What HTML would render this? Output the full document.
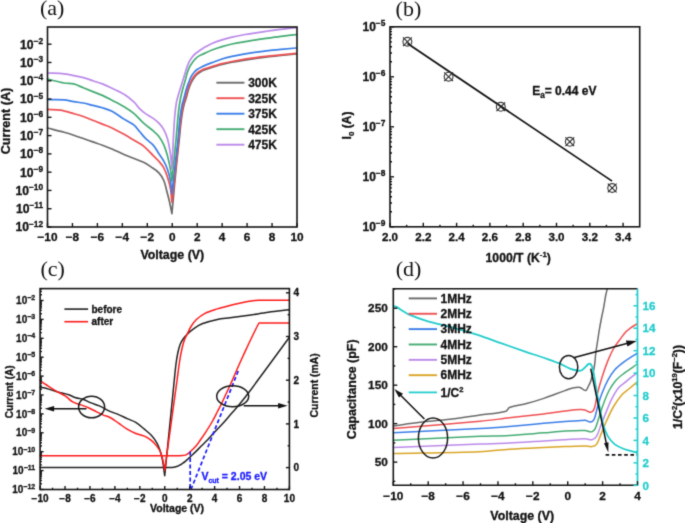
<!DOCTYPE html>
<html><head><meta charset="utf-8"><style>
html,body{margin:0;padding:0;background:#fff;}
body{width:685px;height:523px;overflow:hidden;}
svg{display:block;}
</style></head><body>
<svg width="685" height="523" viewBox="0 0 685 523">
<defs><filter id="bl" x="0" y="0" width="685" height="523" filterUnits="userSpaceOnUse" color-interpolation-filters="sRGB"><feConvolveMatrix order="3" kernelMatrix="0.01917 0.10012 0.01917 0.10012 0.52283 0.10012 0.01917 0.10012 0.01917" edgeMode="duplicate"/></filter></defs>
<rect width="685" height="523" fill="#fff"/>
<g filter="url(#bl)">
<rect width="685" height="523" fill="#fff"/>
<text x="40" y="15.3" font-size="22" text-anchor="start" fill="#111" font-weight="normal" font-family='"Liberation Serif", serif' >(a)</text>
<path d="M47.5,128 C53.03,129.43 58.59,130.79 64.1,132.3 C67.32,133.19 70.52,134.17 73.7,135.2 C76.92,136.24 80.11,137.38 83.3,138.5 C86.47,139.61 89.63,140.79 92.8,141.9 C95.99,143.02 99.23,144.03 102.4,145.2 C105.63,146.39 108.84,147.64 112,149 C116.21,150.81 120.29,152.89 124.5,154.7 C127.66,156.06 130.9,157.23 134.1,158.5 C137.27,159.76 140.55,160.77 143.6,162.3 C146.31,163.65 148.81,165.39 151.3,167.1 C153.91,168.89 156.74,170.48 158.9,172.8 C160.98,175.02 162.58,177.71 163.8,180.5 C165.21,183.74 165.79,187.29 166.7,190.7 C167.72,194.52 168.73,198.34 169.6,202.2 C170.46,206.01 171.13,209.87 171.9,213.7 C172.87,203.13 173.8,192.56 174.8,182 C175.5,174.66 176.23,167.33 177,160 C177.7,153.33 178.5,146.67 179.2,140 C179.76,134.67 180.19,129.32 180.8,124 C181.22,120.32 181.68,116.65 182.3,113 C182.81,109.98 183.44,106.97 184.2,104 C184.68,102.13 185.45,100.35 186,98.5 C186.89,95.51 187.52,92.46 188.5,89.5 C189.29,87.11 190.22,84.77 191.3,82.5 C192.05,80.92 192.98,79.42 194,78 C194.89,76.75 195.9,75.57 197,74.5 C197.91,73.62 198.91,72.84 200,72.2 C201.59,71.26 203.28,70.47 205,69.8 C208.28,68.53 211.61,67.35 215,66.4 C220.62,64.82 226.27,63.33 232,62.2 C239.95,60.63 247.97,59.4 256,58.3 C264.31,57.16 272.66,56.39 281,55.5 C286.06,54.96 291.13,54.5 296.2,54" fill="none" stroke="#6a6a6a" stroke-width="1.7" stroke-linejoin="round" stroke-linecap="round" />
<path d="M47.5,109.4 C51.77,109.63 56.08,109.42 60.3,110.1 C64.86,110.83 69.25,112.36 73.7,113.6 C76.92,114.5 80.15,115.39 83.3,116.5 C86.52,117.63 89.63,119.04 92.8,120.3 C96,121.57 99.21,122.82 102.4,124.1 C105.61,125.39 108.88,126.52 112,128 C116.26,130.02 120.38,132.31 124.5,134.6 C127.75,136.41 130.91,138.38 134.1,140.3 C137.28,142.21 140.7,143.78 143.6,146.1 C147.11,148.91 150.01,152.43 153.2,155.6 C155.11,157.49 157.14,159.27 158.9,161.3 C160.68,163.35 162.51,165.41 163.8,167.8 C165.44,170.83 166.55,174.12 167.6,177.4 C168.79,181.14 169.83,184.94 170.5,188.8 C171.27,193.22 171.43,197.73 171.9,202.2 C172.77,194.8 173.69,187.41 174.5,180 C175.23,173.34 175.8,166.66 176.5,160 C177.2,153.33 178.01,146.67 178.7,140 C179.25,134.67 179.61,129.32 180.2,124 C180.61,120.32 181.1,116.65 181.7,113 C182.2,109.98 182.77,106.97 183.5,104 C184,101.96 184.82,100.02 185.4,98 C186.26,95.02 186.82,91.95 187.8,89 C188.59,86.6 189.63,84.29 190.7,82 C191.43,80.45 192.24,78.92 193.2,77.5 C194.08,76.21 195.1,75 196.2,73.9 C197.14,72.96 198.21,72.15 199.3,71.4 C200.15,70.82 201.06,70.33 202,69.9 C202.97,69.46 203.99,69.13 205,68.8 C208.32,67.7 211.65,66.62 215,65.6 C217.32,64.89 219.64,64.17 222,63.6 C225.31,62.8 228.65,62.14 232,61.5 C236.32,60.67 240.66,59.91 245,59.2 C248.66,58.61 252.33,58.09 256,57.6 C259.33,57.16 262.66,56.77 266,56.4 C271,55.84 276,55.31 281,54.8 C286.06,54.28 291.13,53.8 296.2,53.3" fill="none" stroke="#f04f52" stroke-width="1.7" stroke-linejoin="round" stroke-linecap="round" />
<path d="M47.5,99.6 C53.03,99.67 58.58,99.36 64.1,99.8 C67.35,100.06 70.48,101.16 73.7,101.7 C76.89,102.23 80.13,102.39 83.3,103 C86.51,103.62 89.63,104.6 92.8,105.4 C96,106.2 99.25,106.83 102.4,107.8 C105.66,108.8 108.98,109.72 112,111.3 C116.4,113.61 120.29,116.77 124.5,119.4 C127.66,121.37 131.21,122.76 134.1,125.1 C136.38,126.95 137.89,129.57 139.8,131.8 C141.69,134.01 143.44,136.35 145.5,138.4 C147.91,140.8 150.96,142.54 153.2,145.1 C155.47,147.69 157,150.83 158.9,153.7 C160.53,156.17 162.39,158.5 163.8,161.1 C165.3,163.85 166.61,166.73 167.6,169.7 C168.85,173.45 169.8,177.31 170.5,181.2 C171.24,185.29 171.43,189.47 171.9,193.6 C172.6,187.4 173.31,181.2 174,175 C174.67,169 175.31,163 176,157 C176.65,151.33 177.42,145.68 178,140 C178.56,134.51 178.85,128.99 179.4,123.5 C179.75,119.92 180.17,116.35 180.7,112.8 C181.14,109.85 181.65,106.91 182.3,104 C182.75,101.97 183.46,100.01 184,98 C184.86,94.84 185.54,91.63 186.5,88.5 C187.18,86.29 188.05,84.15 188.9,82 C189.65,80.08 190.31,78.11 191.3,76.3 C192.15,74.75 193.23,73.32 194.4,72 C195.31,70.97 196.37,70.07 197.5,69.3 C198.92,68.33 200.48,67.59 202,66.8 C202.98,66.29 203.98,65.83 205,65.4 C207.32,64.43 209.65,63.49 212,62.6 C215.32,61.35 218.62,60.05 222,59 C225.29,57.98 228.64,57.16 232,56.4 C236.31,55.43 240.65,54.56 245,53.8 C248.65,53.16 252.33,52.72 256,52.2 C259.33,51.72 262.66,51.19 266,50.8 C270.99,50.22 276,49.76 281,49.3 C286.06,48.83 291.13,48.43 296.2,48" fill="none" stroke="#3b7ee8" stroke-width="1.7" stroke-linejoin="round" stroke-linecap="round" />
<path d="M47.5,79.1 C53.03,80.4 58.51,81.98 64.1,83 C67.26,83.58 70.58,83.12 73.7,83.9 C77.05,84.74 80.1,86.51 83.3,87.8 C86.46,89.08 89.63,90.34 92.8,91.6 C96,92.87 99.26,93.99 102.4,95.4 C105.67,96.86 108.83,98.55 112,100.2 C116.19,102.38 120.46,104.45 124.5,106.9 C127.84,108.92 131.13,111.07 134.1,113.6 C137.52,116.52 140.25,120.19 143.6,123.2 C146.63,125.93 150.12,128.12 153.2,130.8 C155.23,132.56 157.29,134.35 158.9,136.5 C160.85,139.09 162.5,141.93 163.8,144.9 C165.41,148.57 166.56,152.43 167.6,156.3 C168.79,160.71 169.72,165.2 170.5,169.7 C171.16,173.51 171.43,177.37 171.9,181.2 C172.43,175.8 172.96,170.4 173.5,165 C174,160 174.5,155 175,150 C175.33,146.67 175.7,143.34 176,140 C176.5,134.5 176.9,129 177.4,123.5 C177.8,119.03 178.14,114.55 178.7,110.1 C179.21,106.05 179.82,102.01 180.6,98 C181.25,94.64 182.12,91.31 183,88 C183.66,85.51 184.51,83.08 185.2,80.6 C185.88,78.18 186.34,75.7 187.1,73.3 C187.77,71.19 188.52,69.09 189.5,67.1 C190.36,65.37 191.47,63.77 192.6,62.2 C193.51,60.93 194.5,59.7 195.6,58.6 C196.54,57.66 197.58,56.82 198.7,56.1 C199.73,55.44 200.9,55.03 202,54.5 C203,54.03 203.99,53.55 205,53.1 C207.33,52.05 209.62,50.91 212,50 C215.29,48.74 218.63,47.61 222,46.6 C225.3,45.61 228.63,44.73 232,44 C236.31,43.06 240.66,42.36 245,41.6 C248.66,40.96 252.33,40.38 256,39.8 C259.33,39.28 262.66,38.77 266,38.3 C271,37.6 275.99,36.91 281,36.3 C286.06,35.68 291.13,35.17 296.2,34.6" fill="none" stroke="#45ac74" stroke-width="1.7" stroke-linejoin="round" stroke-linecap="round" />
<path d="M47.5,73 C53.03,73.27 58.61,73.09 64.1,73.8 C70.57,74.63 76.96,76.07 83.3,77.6 C86.54,78.38 89.64,79.66 92.8,80.7 C96,81.76 99.26,82.66 102.4,83.9 C105.67,85.2 108.83,86.78 112,88.3 C116.19,90.31 120.56,92.02 124.5,94.5 C127.97,96.68 131.11,99.39 134.1,102.2 C136.24,104.21 137.73,106.83 139.8,108.9 C141.54,110.64 143.49,112.18 145.5,113.6 C147.97,115.35 150.74,116.64 153.2,118.4 C155.22,119.85 157.19,121.4 158.9,123.2 C160.75,125.15 162.51,127.24 163.8,129.6 C165.44,132.59 166.71,135.81 167.6,139.1 C168.95,144.11 169.76,149.26 170.5,154.4 C171.19,159.17 171.43,164 171.9,168.8 C172.13,164.2 172.38,159.6 172.6,155 C172.84,150 173.03,145 173.3,140 C173.73,132.26 174.05,124.52 174.7,116.8 C175.12,111.85 175.67,106.9 176.5,102 C176.93,99.45 177.79,96.99 178.5,94.5 C179.12,92.32 179.83,90.17 180.5,88 C181.16,85.87 181.84,83.74 182.5,81.6 C183.11,79.64 183.7,77.67 184.3,75.7 C185,73.4 185.61,71.07 186.4,68.8 C187.15,66.64 187.9,64.46 188.9,62.4 C189.77,60.61 190.83,58.91 192,57.3 C192.87,56.1 193.9,55 195,54 C196.14,52.96 197.44,52.1 198.7,51.2 C199.78,50.43 200.88,49.7 202,49 C203.32,48.17 204.64,47.35 206,46.6 C207.97,45.52 209.92,44.37 212,43.5 C215.27,42.13 218.63,40.98 222,39.9 C225.3,38.85 228.63,37.89 232,37.1 C236.3,36.09 240.65,35.28 245,34.5 C248.65,33.85 252.33,33.36 256,32.8 C259.33,32.29 262.66,31.77 266,31.3 C271,30.6 275.99,29.9 281,29.3 C286.06,28.7 291.13,28.23 296.2,27.7" fill="none" stroke="#bb8aea" stroke-width="1.7" stroke-linejoin="round" stroke-linecap="round" />
<rect x="47.5" y="27" width="249.5" height="200" fill="none" stroke="#151515" stroke-width="1.6"/>
<line x1="47.5" y1="227" x2="47.5" y2="223" stroke="#151515" stroke-width="1.4" />
<text x="47.5" y="240.6" font-size="11.8" text-anchor="middle" fill="#111" font-weight="bold" font-family='"Liberation Sans", sans-serif' stroke="#111" stroke-width="0.3" >&#8722;10</text>
<line x1="72.45" y1="227" x2="72.45" y2="223" stroke="#151515" stroke-width="1.4" />
<text x="72.45" y="240.6" font-size="11.8" text-anchor="middle" fill="#111" font-weight="bold" font-family='"Liberation Sans", sans-serif' stroke="#111" stroke-width="0.3" >&#8722;8</text>
<line x1="97.4" y1="227" x2="97.4" y2="223" stroke="#151515" stroke-width="1.4" />
<text x="97.4" y="240.6" font-size="11.8" text-anchor="middle" fill="#111" font-weight="bold" font-family='"Liberation Sans", sans-serif' stroke="#111" stroke-width="0.3" >&#8722;6</text>
<line x1="122.35" y1="227" x2="122.35" y2="223" stroke="#151515" stroke-width="1.4" />
<text x="122.35" y="240.6" font-size="11.8" text-anchor="middle" fill="#111" font-weight="bold" font-family='"Liberation Sans", sans-serif' stroke="#111" stroke-width="0.3" >&#8722;4</text>
<line x1="147.3" y1="227" x2="147.3" y2="223" stroke="#151515" stroke-width="1.4" />
<text x="147.3" y="240.6" font-size="11.8" text-anchor="middle" fill="#111" font-weight="bold" font-family='"Liberation Sans", sans-serif' stroke="#111" stroke-width="0.3" >&#8722;2</text>
<line x1="172.25" y1="227" x2="172.25" y2="223" stroke="#151515" stroke-width="1.4" />
<text x="172.25" y="240.6" font-size="11.8" text-anchor="middle" fill="#111" font-weight="bold" font-family='"Liberation Sans", sans-serif' stroke="#111" stroke-width="0.3" >0</text>
<line x1="197.2" y1="227" x2="197.2" y2="223" stroke="#151515" stroke-width="1.4" />
<text x="197.2" y="240.6" font-size="11.8" text-anchor="middle" fill="#111" font-weight="bold" font-family='"Liberation Sans", sans-serif' stroke="#111" stroke-width="0.3" >2</text>
<line x1="222.15" y1="227" x2="222.15" y2="223" stroke="#151515" stroke-width="1.4" />
<text x="222.15" y="240.6" font-size="11.8" text-anchor="middle" fill="#111" font-weight="bold" font-family='"Liberation Sans", sans-serif' stroke="#111" stroke-width="0.3" >4</text>
<line x1="247.1" y1="227" x2="247.1" y2="223" stroke="#151515" stroke-width="1.4" />
<text x="247.1" y="240.6" font-size="11.8" text-anchor="middle" fill="#111" font-weight="bold" font-family='"Liberation Sans", sans-serif' stroke="#111" stroke-width="0.3" >6</text>
<line x1="272.05" y1="227" x2="272.05" y2="223" stroke="#151515" stroke-width="1.4" />
<text x="272.05" y="240.6" font-size="11.8" text-anchor="middle" fill="#111" font-weight="bold" font-family='"Liberation Sans", sans-serif' stroke="#111" stroke-width="0.3" >8</text>
<line x1="297" y1="227" x2="297" y2="223" stroke="#151515" stroke-width="1.4" />
<text x="297" y="240.6" font-size="11.8" text-anchor="middle" fill="#111" font-weight="bold" font-family='"Liberation Sans", sans-serif' stroke="#111" stroke-width="0.3" >10</text>
<line x1="47.5" y1="227" x2="51.5" y2="227" stroke="#151515" stroke-width="1.4" />
<text x="43.2" y="231.4" font-size="12.2" text-anchor="end" fill="#111" font-weight="bold" font-family='"Liberation Sans", sans-serif' stroke="#111" stroke-width="0.3" >10<tspan font-size="8.4" dy="-4.9">&#8722;12</tspan></text>
<line x1="47.5" y1="208.72" x2="51.5" y2="208.72" stroke="#151515" stroke-width="1.4" />
<text x="43.2" y="213.12" font-size="12.2" text-anchor="end" fill="#111" font-weight="bold" font-family='"Liberation Sans", sans-serif' stroke="#111" stroke-width="0.3" >10<tspan font-size="8.4" dy="-4.9">&#8722;11</tspan></text>
<line x1="47.5" y1="190.44" x2="51.5" y2="190.44" stroke="#151515" stroke-width="1.4" />
<text x="43.2" y="194.84" font-size="12.2" text-anchor="end" fill="#111" font-weight="bold" font-family='"Liberation Sans", sans-serif' stroke="#111" stroke-width="0.3" >10<tspan font-size="8.4" dy="-4.9">&#8722;10</tspan></text>
<line x1="47.5" y1="172.16" x2="51.5" y2="172.16" stroke="#151515" stroke-width="1.4" />
<text x="43.2" y="176.56" font-size="12.2" text-anchor="end" fill="#111" font-weight="bold" font-family='"Liberation Sans", sans-serif' stroke="#111" stroke-width="0.3" >10<tspan font-size="8.4" dy="-4.9">&#8722;9</tspan></text>
<line x1="47.5" y1="153.88" x2="51.5" y2="153.88" stroke="#151515" stroke-width="1.4" />
<text x="43.2" y="158.28" font-size="12.2" text-anchor="end" fill="#111" font-weight="bold" font-family='"Liberation Sans", sans-serif' stroke="#111" stroke-width="0.3" >10<tspan font-size="8.4" dy="-4.9">&#8722;8</tspan></text>
<line x1="47.5" y1="135.6" x2="51.5" y2="135.6" stroke="#151515" stroke-width="1.4" />
<text x="43.2" y="140" font-size="12.2" text-anchor="end" fill="#111" font-weight="bold" font-family='"Liberation Sans", sans-serif' stroke="#111" stroke-width="0.3" >10<tspan font-size="8.4" dy="-4.9">&#8722;7</tspan></text>
<line x1="47.5" y1="117.32" x2="51.5" y2="117.32" stroke="#151515" stroke-width="1.4" />
<text x="43.2" y="121.72" font-size="12.2" text-anchor="end" fill="#111" font-weight="bold" font-family='"Liberation Sans", sans-serif' stroke="#111" stroke-width="0.3" >10<tspan font-size="8.4" dy="-4.9">&#8722;6</tspan></text>
<line x1="47.5" y1="99.04" x2="51.5" y2="99.04" stroke="#151515" stroke-width="1.4" />
<text x="43.2" y="103.44" font-size="12.2" text-anchor="end" fill="#111" font-weight="bold" font-family='"Liberation Sans", sans-serif' stroke="#111" stroke-width="0.3" >10<tspan font-size="8.4" dy="-4.9">&#8722;5</tspan></text>
<line x1="47.5" y1="80.76" x2="51.5" y2="80.76" stroke="#151515" stroke-width="1.4" />
<text x="43.2" y="85.16" font-size="12.2" text-anchor="end" fill="#111" font-weight="bold" font-family='"Liberation Sans", sans-serif' stroke="#111" stroke-width="0.3" >10<tspan font-size="8.4" dy="-4.9">&#8722;4</tspan></text>
<line x1="47.5" y1="62.48" x2="51.5" y2="62.48" stroke="#151515" stroke-width="1.4" />
<text x="43.2" y="66.88" font-size="12.2" text-anchor="end" fill="#111" font-weight="bold" font-family='"Liberation Sans", sans-serif' stroke="#111" stroke-width="0.3" >10<tspan font-size="8.4" dy="-4.9">&#8722;3</tspan></text>
<line x1="47.5" y1="44.2" x2="51.5" y2="44.2" stroke="#151515" stroke-width="1.4" />
<text x="43.2" y="48.6" font-size="12.2" text-anchor="end" fill="#111" font-weight="bold" font-family='"Liberation Sans", sans-serif' stroke="#111" stroke-width="0.3" >10<tspan font-size="8.4" dy="-4.9">&#8722;2</tspan></text>
<text x="172.3" y="258.8" font-size="12.4" text-anchor="middle" fill="#111" font-weight="bold" font-family='"Liberation Sans", sans-serif' stroke="#111" stroke-width="0.3" >Voltage (V)</text>
<text x="0" y="0" font-size="12.6" text-anchor="middle" fill="#111" font-weight="bold" font-family='"Liberation Sans", sans-serif' stroke="#111" stroke-width="0.3" transform="translate(9.8,121) rotate(-90)">Current (A)</text>
<line x1="216.4" y1="82.7" x2="244.4" y2="82.7" stroke="#6a6a6a" stroke-width="1.9" />
<text x="248.2" y="87" font-size="12" text-anchor="start" fill="#111" font-weight="bold" font-family='"Liberation Sans", sans-serif' stroke="#111" stroke-width="0.3" >300K</text>
<line x1="216.4" y1="98.2" x2="244.4" y2="98.2" stroke="#f04f52" stroke-width="1.9" />
<text x="248.2" y="102.5" font-size="12" text-anchor="start" fill="#111" font-weight="bold" font-family='"Liberation Sans", sans-serif' stroke="#111" stroke-width="0.3" >325K</text>
<line x1="216.4" y1="113.7" x2="244.4" y2="113.7" stroke="#3b7ee8" stroke-width="1.9" />
<text x="248.2" y="118" font-size="12" text-anchor="start" fill="#111" font-weight="bold" font-family='"Liberation Sans", sans-serif' stroke="#111" stroke-width="0.3" >375K</text>
<line x1="216.4" y1="129.2" x2="244.4" y2="129.2" stroke="#45ac74" stroke-width="1.9" />
<text x="248.2" y="133.5" font-size="12" text-anchor="start" fill="#111" font-weight="bold" font-family='"Liberation Sans", sans-serif' stroke="#111" stroke-width="0.3" >425K</text>
<line x1="216.4" y1="144.7" x2="244.4" y2="144.7" stroke="#bb8aea" stroke-width="1.9" />
<text x="248.2" y="149" font-size="12" text-anchor="start" fill="#111" font-weight="bold" font-family='"Liberation Sans", sans-serif' stroke="#111" stroke-width="0.3" >475K</text>
<text x="395.6" y="15.7" font-size="22" text-anchor="start" fill="#111" font-weight="normal" font-family='"Liberation Serif", serif' >(b)</text>
<rect x="390" y="26.8" width="249.7" height="200" fill="none" stroke="#151515" stroke-width="1.6"/>
<line x1="390" y1="226.8" x2="390" y2="222.8" stroke="#151515" stroke-width="1.4" />
<text x="390" y="240.6" font-size="11.6" text-anchor="middle" fill="#111" font-weight="bold" font-family='"Liberation Sans", sans-serif' stroke="#111" stroke-width="0.3" >2.0</text>
<line x1="406.65" y1="226.8" x2="406.65" y2="224.8" stroke="#151515" stroke-width="1.4" />
<line x1="423.3" y1="226.8" x2="423.3" y2="222.8" stroke="#151515" stroke-width="1.4" />
<text x="423.3" y="240.6" font-size="11.6" text-anchor="middle" fill="#111" font-weight="bold" font-family='"Liberation Sans", sans-serif' stroke="#111" stroke-width="0.3" >2.2</text>
<line x1="439.95" y1="226.8" x2="439.95" y2="224.8" stroke="#151515" stroke-width="1.4" />
<line x1="456.6" y1="226.8" x2="456.6" y2="222.8" stroke="#151515" stroke-width="1.4" />
<text x="456.6" y="240.6" font-size="11.6" text-anchor="middle" fill="#111" font-weight="bold" font-family='"Liberation Sans", sans-serif' stroke="#111" stroke-width="0.3" >2.4</text>
<line x1="473.25" y1="226.8" x2="473.25" y2="224.8" stroke="#151515" stroke-width="1.4" />
<line x1="489.9" y1="226.8" x2="489.9" y2="222.8" stroke="#151515" stroke-width="1.4" />
<text x="489.9" y="240.6" font-size="11.6" text-anchor="middle" fill="#111" font-weight="bold" font-family='"Liberation Sans", sans-serif' stroke="#111" stroke-width="0.3" >2.6</text>
<line x1="506.55" y1="226.8" x2="506.55" y2="224.8" stroke="#151515" stroke-width="1.4" />
<line x1="523.2" y1="226.8" x2="523.2" y2="222.8" stroke="#151515" stroke-width="1.4" />
<text x="523.2" y="240.6" font-size="11.6" text-anchor="middle" fill="#111" font-weight="bold" font-family='"Liberation Sans", sans-serif' stroke="#111" stroke-width="0.3" >2.8</text>
<line x1="539.85" y1="226.8" x2="539.85" y2="224.8" stroke="#151515" stroke-width="1.4" />
<line x1="556.5" y1="226.8" x2="556.5" y2="222.8" stroke="#151515" stroke-width="1.4" />
<text x="556.5" y="240.6" font-size="11.6" text-anchor="middle" fill="#111" font-weight="bold" font-family='"Liberation Sans", sans-serif' stroke="#111" stroke-width="0.3" >3.0</text>
<line x1="573.15" y1="226.8" x2="573.15" y2="224.8" stroke="#151515" stroke-width="1.4" />
<line x1="589.8" y1="226.8" x2="589.8" y2="222.8" stroke="#151515" stroke-width="1.4" />
<text x="589.8" y="240.6" font-size="11.6" text-anchor="middle" fill="#111" font-weight="bold" font-family='"Liberation Sans", sans-serif' stroke="#111" stroke-width="0.3" >3.2</text>
<line x1="606.45" y1="226.8" x2="606.45" y2="224.8" stroke="#151515" stroke-width="1.4" />
<line x1="623.1" y1="226.8" x2="623.1" y2="222.8" stroke="#151515" stroke-width="1.4" />
<text x="623.1" y="240.6" font-size="11.6" text-anchor="middle" fill="#111" font-weight="bold" font-family='"Liberation Sans", sans-serif' stroke="#111" stroke-width="0.3" >3.4</text>
<line x1="390" y1="226.8" x2="394" y2="226.8" stroke="#151515" stroke-width="1.4" />
<text x="385.4" y="231.3" font-size="12.0" text-anchor="end" fill="#111" font-weight="bold" font-family='"Liberation Sans", sans-serif' stroke="#111" stroke-width="0.3" >10<tspan font-size="8.4" dy="-5">&#8722;9</tspan></text>
<line x1="390" y1="211.75" x2="392" y2="211.75" stroke="#151515" stroke-width="1.4" />
<line x1="390" y1="202.94" x2="392" y2="202.94" stroke="#151515" stroke-width="1.4" />
<line x1="390" y1="196.7" x2="392" y2="196.7" stroke="#151515" stroke-width="1.4" />
<line x1="390" y1="191.85" x2="392" y2="191.85" stroke="#151515" stroke-width="1.4" />
<line x1="390" y1="187.89" x2="392" y2="187.89" stroke="#151515" stroke-width="1.4" />
<line x1="390" y1="184.55" x2="392" y2="184.55" stroke="#151515" stroke-width="1.4" />
<line x1="390" y1="181.65" x2="392" y2="181.65" stroke="#151515" stroke-width="1.4" />
<line x1="390" y1="179.09" x2="392" y2="179.09" stroke="#151515" stroke-width="1.4" />
<line x1="390" y1="176.8" x2="394" y2="176.8" stroke="#151515" stroke-width="1.4" />
<text x="385.4" y="181.3" font-size="12.0" text-anchor="end" fill="#111" font-weight="bold" font-family='"Liberation Sans", sans-serif' stroke="#111" stroke-width="0.3" >10<tspan font-size="8.4" dy="-5">&#8722;8</tspan></text>
<line x1="390" y1="161.75" x2="392" y2="161.75" stroke="#151515" stroke-width="1.4" />
<line x1="390" y1="152.94" x2="392" y2="152.94" stroke="#151515" stroke-width="1.4" />
<line x1="390" y1="146.7" x2="392" y2="146.7" stroke="#151515" stroke-width="1.4" />
<line x1="390" y1="141.85" x2="392" y2="141.85" stroke="#151515" stroke-width="1.4" />
<line x1="390" y1="137.89" x2="392" y2="137.89" stroke="#151515" stroke-width="1.4" />
<line x1="390" y1="134.55" x2="392" y2="134.55" stroke="#151515" stroke-width="1.4" />
<line x1="390" y1="131.65" x2="392" y2="131.65" stroke="#151515" stroke-width="1.4" />
<line x1="390" y1="129.09" x2="392" y2="129.09" stroke="#151515" stroke-width="1.4" />
<line x1="390" y1="126.8" x2="394" y2="126.8" stroke="#151515" stroke-width="1.4" />
<text x="385.4" y="131.3" font-size="12.0" text-anchor="end" fill="#111" font-weight="bold" font-family='"Liberation Sans", sans-serif' stroke="#111" stroke-width="0.3" >10<tspan font-size="8.4" dy="-5">&#8722;7</tspan></text>
<line x1="390" y1="111.75" x2="392" y2="111.75" stroke="#151515" stroke-width="1.4" />
<line x1="390" y1="102.94" x2="392" y2="102.94" stroke="#151515" stroke-width="1.4" />
<line x1="390" y1="96.7" x2="392" y2="96.7" stroke="#151515" stroke-width="1.4" />
<line x1="390" y1="91.85" x2="392" y2="91.85" stroke="#151515" stroke-width="1.4" />
<line x1="390" y1="87.89" x2="392" y2="87.89" stroke="#151515" stroke-width="1.4" />
<line x1="390" y1="84.55" x2="392" y2="84.55" stroke="#151515" stroke-width="1.4" />
<line x1="390" y1="81.65" x2="392" y2="81.65" stroke="#151515" stroke-width="1.4" />
<line x1="390" y1="79.09" x2="392" y2="79.09" stroke="#151515" stroke-width="1.4" />
<line x1="390" y1="76.8" x2="394" y2="76.8" stroke="#151515" stroke-width="1.4" />
<text x="385.4" y="81.3" font-size="12.0" text-anchor="end" fill="#111" font-weight="bold" font-family='"Liberation Sans", sans-serif' stroke="#111" stroke-width="0.3" >10<tspan font-size="8.4" dy="-5">&#8722;6</tspan></text>
<line x1="390" y1="61.75" x2="392" y2="61.75" stroke="#151515" stroke-width="1.4" />
<line x1="390" y1="52.94" x2="392" y2="52.94" stroke="#151515" stroke-width="1.4" />
<line x1="390" y1="46.7" x2="392" y2="46.7" stroke="#151515" stroke-width="1.4" />
<line x1="390" y1="41.85" x2="392" y2="41.85" stroke="#151515" stroke-width="1.4" />
<line x1="390" y1="37.89" x2="392" y2="37.89" stroke="#151515" stroke-width="1.4" />
<line x1="390" y1="34.55" x2="392" y2="34.55" stroke="#151515" stroke-width="1.4" />
<line x1="390" y1="31.65" x2="392" y2="31.65" stroke="#151515" stroke-width="1.4" />
<line x1="390" y1="29.09" x2="392" y2="29.09" stroke="#151515" stroke-width="1.4" />
<line x1="390" y1="26.8" x2="394" y2="26.8" stroke="#151515" stroke-width="1.4" />
<text x="385.4" y="31.3" font-size="12.0" text-anchor="end" fill="#111" font-weight="bold" font-family='"Liberation Sans", sans-serif' stroke="#111" stroke-width="0.3" >10<tspan font-size="8.4" dy="-5">&#8722;5</tspan></text>
<text x="0" y="0" font-size="12" text-anchor="middle" fill="#111" font-weight="bold" font-family='"Liberation Sans", sans-serif' stroke="#111" stroke-width="0.3" transform="translate(351.2,125.5) rotate(-90)">I<tspan font-size="8" dy="3">0</tspan><tspan dy="-3"> (A)</tspan></text>
<text x="518.2" y="262.3" font-size="12.2" text-anchor="middle" fill="#111" font-weight="bold" font-family='"Liberation Sans", sans-serif' stroke="#111" stroke-width="0.3" >1000/T (K<tspan font-size="7.8" dy="-5">-1</tspan><tspan dy="5">)</tspan></text>
<line x1="407.5" y1="43.5" x2="612.1" y2="181.1" stroke="#111" stroke-width="1.7" />
<circle cx="407.4" cy="41.7" r="4.4" fill="none" stroke="#3a3a3a" stroke-width="1.15"/>
<line x1="403" y1="37.3" x2="411.8" y2="46.1" stroke="#222" stroke-width="1.05" />
<line x1="403" y1="46.1" x2="411.8" y2="37.3" stroke="#222" stroke-width="1.05" />
<circle cx="448.6" cy="76.7" r="4.4" fill="none" stroke="#3a3a3a" stroke-width="1.15"/>
<line x1="444.2" y1="72.3" x2="453" y2="81.1" stroke="#222" stroke-width="1.05" />
<line x1="444.2" y1="81.1" x2="453" y2="72.3" stroke="#222" stroke-width="1.05" />
<circle cx="500.8" cy="106.8" r="4.4" fill="none" stroke="#3a3a3a" stroke-width="1.15"/>
<line x1="496.4" y1="102.4" x2="505.2" y2="111.2" stroke="#222" stroke-width="1.05" />
<line x1="496.4" y1="111.2" x2="505.2" y2="102.4" stroke="#222" stroke-width="1.05" />
<circle cx="569.8" cy="141.8" r="4.4" fill="none" stroke="#3a3a3a" stroke-width="1.15"/>
<line x1="565.4" y1="137.4" x2="574.2" y2="146.2" stroke="#222" stroke-width="1.05" />
<line x1="565.4" y1="146.2" x2="574.2" y2="137.4" stroke="#222" stroke-width="1.05" />
<circle cx="612.2" cy="188" r="4.4" fill="none" stroke="#3a3a3a" stroke-width="1.15"/>
<line x1="607.8" y1="183.6" x2="616.6" y2="192.4" stroke="#222" stroke-width="1.05" />
<line x1="607.8" y1="192.4" x2="616.6" y2="183.6" stroke="#222" stroke-width="1.05" />
<text x="532.2" y="95.4" font-size="12" text-anchor="start" fill="#111" font-weight="bold" font-family='"Liberation Sans", sans-serif' stroke="#111" stroke-width="0.3" >E<tspan font-size="8.2" dy="2.8">a</tspan><tspan dy="-2.8">= 0.44 eV</tspan></text>
<text x="40.4" y="276.4" font-size="22" text-anchor="start" fill="#111" font-weight="normal" font-family='"Liberation Serif", serif' >(c)</text>
<path d="M40.1,387.2 C41.77,387.5 43.45,387.71 45.1,388.1 C46.82,388.51 48.5,389.09 50.2,389.6 C53.6,390.62 56.98,391.75 60.4,392.7 C63.11,393.45 65.93,393.82 68.6,394.7 C71.08,395.52 73.31,397 75.8,397.8 C78.1,398.54 80.61,398.54 82.9,399.3 C85.73,400.24 88.33,401.79 91.1,402.9 C93.8,403.99 96.65,404.71 99.3,405.9 C102.96,407.54 106.34,409.75 110,411.4 C112.79,412.66 115.78,413.42 118.6,414.6 C121.52,415.82 124.32,417.29 127.2,418.6 C130.05,419.89 133.13,420.76 135.8,422.4 C138.91,424.32 141.59,426.86 144.4,429.2 C146.76,431.16 149.21,433.05 151.3,435.3 C153.23,437.37 154.96,439.66 156.4,442.1 C157.85,444.56 158.99,447.2 159.9,449.9 C161.03,453.26 161.85,456.72 162.5,460.2 C163.45,465.33 163.97,470.53 164.7,475.7 C166.3,459.8 167.9,443.9 169.5,428 C171.1,412 172.68,396 174.3,380 C174.84,374.66 175.31,369.32 176,364 C176.48,360.32 177.02,356.63 177.8,353 C178.45,349.96 179.16,346.9 180.3,344 C181.08,342.03 182.28,340.23 183.5,338.5 C184.59,336.95 185.84,335.52 187.2,334.2 C189.19,332.27 191.23,330.38 193.5,328.8 C196.22,326.9 199.01,325 202.1,323.8 C207.04,321.88 212.22,320.61 217.4,319.5 C221.54,318.61 225.8,318.37 230,317.8 C236.37,316.94 242.74,316.11 249.1,315.2 C255.51,314.28 261.89,313.17 268.3,312.3 C275.19,311.37 282.1,310.63 289,309.8" fill="none" stroke="#222" stroke-width="1.5" stroke-linejoin="round" stroke-linecap="round" />
<path d="M40.1,467.5 C83.4,467.5 126.7,467.6 170,467.5 C171.34,467.5 172.68,467.41 174,467.2 C175.19,467.01 176.37,466.71 177.5,466.3 C178.38,465.98 179.19,465.47 180,465 C180.86,464.5 181.68,463.96 182.5,463.4 C183.45,462.76 184.4,462.12 185.3,461.4 C186.24,460.65 187.12,459.82 188,459 C188.85,458.22 189.66,457.4 190.5,456.6 C192.26,454.93 194.07,453.3 195.8,451.6 C197.57,449.87 199.25,448.05 201,446.3 C203.12,444.18 205.32,442.15 207.4,440 C208.52,438.85 209.5,437.57 210.6,436.4 C214.24,432.51 218.01,428.74 221.6,424.8 C224.88,421.2 228,417.47 231.2,413.8 C233.97,410.63 236.83,407.55 239.5,404.3 C242.93,400.11 246.24,395.82 249.5,391.5 C254.74,384.55 259.85,377.51 265,370.5 C273.08,359.51 281.13,348.5 289.2,337.5" fill="none" stroke="#222" stroke-width="1.5" stroke-linejoin="round" stroke-linecap="round" />
<path d="M40.1,380.6 C42.27,382.07 44.41,383.56 46.6,385 C49.48,386.9 52.33,388.84 55.3,390.6 C58.64,392.58 62.25,394.09 65.5,396.2 C68.07,397.87 70.03,400.39 72.7,401.9 C75.23,403.33 78.17,403.88 80.9,404.9 C83.61,405.91 86.35,406.84 89,408 C91.46,409.08 93.79,410.41 96.2,411.6 C98.59,412.78 100.95,414.05 103.4,415.1 C105.55,416.02 107.93,416.4 110,417.5 C113.04,419.12 115.76,421.27 118.6,423.2 C121.49,425.17 124.2,427.4 127.2,429.2 C129.95,430.85 132.83,432.31 135.8,433.5 C138.58,434.62 141.66,434.88 144.4,436.1 C146.88,437.2 149.18,438.72 151.3,440.4 C153.2,441.91 154.91,443.68 156.4,445.6 C158.06,447.74 159.64,450 160.7,452.5 C161.97,455.49 162.59,458.73 163.3,461.9 C163.93,464.74 164.23,467.63 164.7,470.5 C166.77,455.33 168.82,440.17 170.9,425 C172.96,410 175.05,395 177.1,380 C177.92,374 178.57,367.98 179.5,362 C180.2,357.48 180.99,352.96 182,348.5 C182.69,345.45 183.53,342.43 184.6,339.5 C185.27,337.65 186.33,335.97 187.2,334.2 C188.46,331.63 189.48,328.93 191,326.5 C192.56,324 194.26,321.52 196.4,319.5 C198.97,317.08 201.85,314.89 205,313.3 C208.92,311.32 213.22,310.23 217.4,308.9 C221.19,307.69 225.05,306.69 228.9,305.7 C232.45,304.79 236.02,303.98 239.6,303.2 C242.76,302.51 245.91,301.83 249.1,301.3 C251.95,300.83 254.83,300.57 257.7,300.2 L289,300.3" fill="none" stroke="#ff1a1a" stroke-width="1.5" stroke-linejoin="round" stroke-linecap="round" />
<path d="M40.1,455.8 C86.07,455.8 132.03,455.86 178,455.8 C179.33,455.8 180.67,455.73 182,455.6 C183.11,455.49 184.24,455.45 185.3,455.1 C186.28,454.77 187.15,454.19 188,453.6 C188.89,452.98 189.71,452.24 190.5,451.5 C192.31,449.81 194.18,448.17 195.8,446.3 C197.36,444.49 198.63,442.45 200,440.5 C201.73,438.05 203.47,435.61 205.1,433.1 C207.47,429.44 209.83,425.78 212,422 C213.97,418.57 215.68,415.01 217.5,411.5 C218.88,408.84 220.29,406.2 221.6,403.5 C223.12,400.36 224.53,397.17 226,394 C227.47,390.83 228.97,387.68 230.4,384.5 C231.97,381.02 233.46,377.5 235,374 C236.76,370 238.5,365.98 240.3,362 C242.8,356.48 245.32,350.98 247.9,345.5 C250.42,340.14 253,334.82 255.6,329.5 C256.67,327.32 257.8,325.17 258.9,323 L289.2,323" fill="none" stroke="#ff1a1a" stroke-width="1.5" stroke-linejoin="round" stroke-linecap="round" />
<line x1="190.2" y1="451.5" x2="190.2" y2="489.5" stroke="#1a1aff" stroke-width="1.7" stroke-dasharray="4,2.5"/>
<line x1="191" y1="489.5" x2="238.4" y2="370.5" stroke="#1a1aff" stroke-width="1.7" stroke-dasharray="4,2.5"/>
<rect x="40.1" y="288.6" width="249.3" height="200.9" fill="none" stroke="#151515" stroke-width="1.6"/>
<line x1="40.1" y1="489.5" x2="40.1" y2="486" stroke="#151515" stroke-width="1.4" />
<text x="40.1" y="501.6" font-size="10" text-anchor="middle" fill="#111" font-weight="bold" font-family='"Liberation Sans", sans-serif' stroke="#111" stroke-width="0.3" >&#8722;10</text>
<line x1="52.56" y1="489.5" x2="52.56" y2="487.7" stroke="#151515" stroke-width="1.4" />
<line x1="65.03" y1="489.5" x2="65.03" y2="486" stroke="#151515" stroke-width="1.4" />
<text x="65.03" y="501.6" font-size="10" text-anchor="middle" fill="#111" font-weight="bold" font-family='"Liberation Sans", sans-serif' stroke="#111" stroke-width="0.3" >&#8722;8</text>
<line x1="77.5" y1="489.5" x2="77.5" y2="487.7" stroke="#151515" stroke-width="1.4" />
<line x1="89.96" y1="489.5" x2="89.96" y2="486" stroke="#151515" stroke-width="1.4" />
<text x="89.96" y="501.6" font-size="10" text-anchor="middle" fill="#111" font-weight="bold" font-family='"Liberation Sans", sans-serif' stroke="#111" stroke-width="0.3" >&#8722;6</text>
<line x1="102.43" y1="489.5" x2="102.43" y2="487.7" stroke="#151515" stroke-width="1.4" />
<line x1="114.89" y1="489.5" x2="114.89" y2="486" stroke="#151515" stroke-width="1.4" />
<text x="114.89" y="501.6" font-size="10" text-anchor="middle" fill="#111" font-weight="bold" font-family='"Liberation Sans", sans-serif' stroke="#111" stroke-width="0.3" >&#8722;4</text>
<line x1="127.35" y1="489.5" x2="127.35" y2="487.7" stroke="#151515" stroke-width="1.4" />
<line x1="139.82" y1="489.5" x2="139.82" y2="486" stroke="#151515" stroke-width="1.4" />
<text x="139.82" y="501.6" font-size="10" text-anchor="middle" fill="#111" font-weight="bold" font-family='"Liberation Sans", sans-serif' stroke="#111" stroke-width="0.3" >&#8722;2</text>
<line x1="152.28" y1="489.5" x2="152.28" y2="487.7" stroke="#151515" stroke-width="1.4" />
<line x1="164.75" y1="489.5" x2="164.75" y2="486" stroke="#151515" stroke-width="1.4" />
<text x="164.75" y="501.6" font-size="10" text-anchor="middle" fill="#111" font-weight="bold" font-family='"Liberation Sans", sans-serif' stroke="#111" stroke-width="0.3" >0</text>
<line x1="177.21" y1="489.5" x2="177.21" y2="487.7" stroke="#151515" stroke-width="1.4" />
<line x1="189.68" y1="489.5" x2="189.68" y2="486" stroke="#151515" stroke-width="1.4" />
<text x="189.68" y="501.6" font-size="10" text-anchor="middle" fill="#111" font-weight="bold" font-family='"Liberation Sans", sans-serif' stroke="#111" stroke-width="0.3" >2</text>
<line x1="202.14" y1="489.5" x2="202.14" y2="487.7" stroke="#151515" stroke-width="1.4" />
<line x1="214.61" y1="489.5" x2="214.61" y2="486" stroke="#151515" stroke-width="1.4" />
<text x="214.61" y="501.6" font-size="10" text-anchor="middle" fill="#111" font-weight="bold" font-family='"Liberation Sans", sans-serif' stroke="#111" stroke-width="0.3" >4</text>
<line x1="227.07" y1="489.5" x2="227.07" y2="487.7" stroke="#151515" stroke-width="1.4" />
<line x1="239.54" y1="489.5" x2="239.54" y2="486" stroke="#151515" stroke-width="1.4" />
<text x="239.54" y="501.6" font-size="10" text-anchor="middle" fill="#111" font-weight="bold" font-family='"Liberation Sans", sans-serif' stroke="#111" stroke-width="0.3" >6</text>
<line x1="252" y1="489.5" x2="252" y2="487.7" stroke="#151515" stroke-width="1.4" />
<line x1="264.47" y1="489.5" x2="264.47" y2="486" stroke="#151515" stroke-width="1.4" />
<text x="264.47" y="501.6" font-size="10" text-anchor="middle" fill="#111" font-weight="bold" font-family='"Liberation Sans", sans-serif' stroke="#111" stroke-width="0.3" >8</text>
<line x1="276.94" y1="489.5" x2="276.94" y2="487.7" stroke="#151515" stroke-width="1.4" />
<line x1="289.4" y1="489.5" x2="289.4" y2="486" stroke="#151515" stroke-width="1.4" />
<text x="289.4" y="501.6" font-size="10" text-anchor="middle" fill="#111" font-weight="bold" font-family='"Liberation Sans", sans-serif' stroke="#111" stroke-width="0.3" >10</text>
<line x1="40.1" y1="489.5" x2="43.6" y2="489.5" stroke="#151515" stroke-width="1.4" />
<text x="35.2" y="493.1" font-size="10.0" text-anchor="end" fill="#111" font-weight="bold" font-family='"Liberation Sans", sans-serif' stroke="#111" stroke-width="0.3" >10<tspan font-size="7.0" dy="-3.8">&#8722;12</tspan></text>
<line x1="40.1" y1="483.81" x2="41.9" y2="483.81" stroke="#151515" stroke-width="1.4" />
<line x1="40.1" y1="480.48" x2="41.9" y2="480.48" stroke="#151515" stroke-width="1.4" />
<line x1="40.1" y1="478.12" x2="41.9" y2="478.12" stroke="#151515" stroke-width="1.4" />
<line x1="40.1" y1="476.29" x2="41.9" y2="476.29" stroke="#151515" stroke-width="1.4" />
<line x1="40.1" y1="474.79" x2="41.9" y2="474.79" stroke="#151515" stroke-width="1.4" />
<line x1="40.1" y1="473.53" x2="41.9" y2="473.53" stroke="#151515" stroke-width="1.4" />
<line x1="40.1" y1="472.43" x2="41.9" y2="472.43" stroke="#151515" stroke-width="1.4" />
<line x1="40.1" y1="471.46" x2="41.9" y2="471.46" stroke="#151515" stroke-width="1.4" />
<line x1="40.1" y1="470.6" x2="43.6" y2="470.6" stroke="#151515" stroke-width="1.4" />
<text x="35.2" y="474.2" font-size="10.0" text-anchor="end" fill="#111" font-weight="bold" font-family='"Liberation Sans", sans-serif' stroke="#111" stroke-width="0.3" >10<tspan font-size="7.0" dy="-3.8">&#8722;11</tspan></text>
<line x1="40.1" y1="464.91" x2="41.9" y2="464.91" stroke="#151515" stroke-width="1.4" />
<line x1="40.1" y1="461.58" x2="41.9" y2="461.58" stroke="#151515" stroke-width="1.4" />
<line x1="40.1" y1="459.22" x2="41.9" y2="459.22" stroke="#151515" stroke-width="1.4" />
<line x1="40.1" y1="457.39" x2="41.9" y2="457.39" stroke="#151515" stroke-width="1.4" />
<line x1="40.1" y1="455.89" x2="41.9" y2="455.89" stroke="#151515" stroke-width="1.4" />
<line x1="40.1" y1="454.63" x2="41.9" y2="454.63" stroke="#151515" stroke-width="1.4" />
<line x1="40.1" y1="453.53" x2="41.9" y2="453.53" stroke="#151515" stroke-width="1.4" />
<line x1="40.1" y1="452.56" x2="41.9" y2="452.56" stroke="#151515" stroke-width="1.4" />
<line x1="40.1" y1="451.7" x2="43.6" y2="451.7" stroke="#151515" stroke-width="1.4" />
<text x="35.2" y="455.3" font-size="10.0" text-anchor="end" fill="#111" font-weight="bold" font-family='"Liberation Sans", sans-serif' stroke="#111" stroke-width="0.3" >10<tspan font-size="7.0" dy="-3.8">&#8722;10</tspan></text>
<line x1="40.1" y1="446.01" x2="41.9" y2="446.01" stroke="#151515" stroke-width="1.4" />
<line x1="40.1" y1="442.68" x2="41.9" y2="442.68" stroke="#151515" stroke-width="1.4" />
<line x1="40.1" y1="440.32" x2="41.9" y2="440.32" stroke="#151515" stroke-width="1.4" />
<line x1="40.1" y1="438.49" x2="41.9" y2="438.49" stroke="#151515" stroke-width="1.4" />
<line x1="40.1" y1="436.99" x2="41.9" y2="436.99" stroke="#151515" stroke-width="1.4" />
<line x1="40.1" y1="435.73" x2="41.9" y2="435.73" stroke="#151515" stroke-width="1.4" />
<line x1="40.1" y1="434.63" x2="41.9" y2="434.63" stroke="#151515" stroke-width="1.4" />
<line x1="40.1" y1="433.66" x2="41.9" y2="433.66" stroke="#151515" stroke-width="1.4" />
<line x1="40.1" y1="432.8" x2="43.6" y2="432.8" stroke="#151515" stroke-width="1.4" />
<text x="35.2" y="436.4" font-size="10.0" text-anchor="end" fill="#111" font-weight="bold" font-family='"Liberation Sans", sans-serif' stroke="#111" stroke-width="0.3" >10<tspan font-size="7.0" dy="-3.8">&#8722;9</tspan></text>
<line x1="40.1" y1="427.11" x2="41.9" y2="427.11" stroke="#151515" stroke-width="1.4" />
<line x1="40.1" y1="423.78" x2="41.9" y2="423.78" stroke="#151515" stroke-width="1.4" />
<line x1="40.1" y1="421.42" x2="41.9" y2="421.42" stroke="#151515" stroke-width="1.4" />
<line x1="40.1" y1="419.59" x2="41.9" y2="419.59" stroke="#151515" stroke-width="1.4" />
<line x1="40.1" y1="418.09" x2="41.9" y2="418.09" stroke="#151515" stroke-width="1.4" />
<line x1="40.1" y1="416.83" x2="41.9" y2="416.83" stroke="#151515" stroke-width="1.4" />
<line x1="40.1" y1="415.73" x2="41.9" y2="415.73" stroke="#151515" stroke-width="1.4" />
<line x1="40.1" y1="414.76" x2="41.9" y2="414.76" stroke="#151515" stroke-width="1.4" />
<line x1="40.1" y1="413.9" x2="43.6" y2="413.9" stroke="#151515" stroke-width="1.4" />
<text x="35.2" y="417.5" font-size="10.0" text-anchor="end" fill="#111" font-weight="bold" font-family='"Liberation Sans", sans-serif' stroke="#111" stroke-width="0.3" >10<tspan font-size="7.0" dy="-3.8">&#8722;8</tspan></text>
<line x1="40.1" y1="408.21" x2="41.9" y2="408.21" stroke="#151515" stroke-width="1.4" />
<line x1="40.1" y1="404.88" x2="41.9" y2="404.88" stroke="#151515" stroke-width="1.4" />
<line x1="40.1" y1="402.52" x2="41.9" y2="402.52" stroke="#151515" stroke-width="1.4" />
<line x1="40.1" y1="400.69" x2="41.9" y2="400.69" stroke="#151515" stroke-width="1.4" />
<line x1="40.1" y1="399.19" x2="41.9" y2="399.19" stroke="#151515" stroke-width="1.4" />
<line x1="40.1" y1="397.93" x2="41.9" y2="397.93" stroke="#151515" stroke-width="1.4" />
<line x1="40.1" y1="396.83" x2="41.9" y2="396.83" stroke="#151515" stroke-width="1.4" />
<line x1="40.1" y1="395.86" x2="41.9" y2="395.86" stroke="#151515" stroke-width="1.4" />
<line x1="40.1" y1="395" x2="43.6" y2="395" stroke="#151515" stroke-width="1.4" />
<text x="35.2" y="398.6" font-size="10.0" text-anchor="end" fill="#111" font-weight="bold" font-family='"Liberation Sans", sans-serif' stroke="#111" stroke-width="0.3" >10<tspan font-size="7.0" dy="-3.8">&#8722;7</tspan></text>
<line x1="40.1" y1="389.31" x2="41.9" y2="389.31" stroke="#151515" stroke-width="1.4" />
<line x1="40.1" y1="385.98" x2="41.9" y2="385.98" stroke="#151515" stroke-width="1.4" />
<line x1="40.1" y1="383.62" x2="41.9" y2="383.62" stroke="#151515" stroke-width="1.4" />
<line x1="40.1" y1="381.79" x2="41.9" y2="381.79" stroke="#151515" stroke-width="1.4" />
<line x1="40.1" y1="380.29" x2="41.9" y2="380.29" stroke="#151515" stroke-width="1.4" />
<line x1="40.1" y1="379.03" x2="41.9" y2="379.03" stroke="#151515" stroke-width="1.4" />
<line x1="40.1" y1="377.93" x2="41.9" y2="377.93" stroke="#151515" stroke-width="1.4" />
<line x1="40.1" y1="376.96" x2="41.9" y2="376.96" stroke="#151515" stroke-width="1.4" />
<line x1="40.1" y1="376.1" x2="43.6" y2="376.1" stroke="#151515" stroke-width="1.4" />
<text x="35.2" y="379.7" font-size="10.0" text-anchor="end" fill="#111" font-weight="bold" font-family='"Liberation Sans", sans-serif' stroke="#111" stroke-width="0.3" >10<tspan font-size="7.0" dy="-3.8">&#8722;6</tspan></text>
<line x1="40.1" y1="370.41" x2="41.9" y2="370.41" stroke="#151515" stroke-width="1.4" />
<line x1="40.1" y1="367.08" x2="41.9" y2="367.08" stroke="#151515" stroke-width="1.4" />
<line x1="40.1" y1="364.72" x2="41.9" y2="364.72" stroke="#151515" stroke-width="1.4" />
<line x1="40.1" y1="362.89" x2="41.9" y2="362.89" stroke="#151515" stroke-width="1.4" />
<line x1="40.1" y1="361.39" x2="41.9" y2="361.39" stroke="#151515" stroke-width="1.4" />
<line x1="40.1" y1="360.13" x2="41.9" y2="360.13" stroke="#151515" stroke-width="1.4" />
<line x1="40.1" y1="359.03" x2="41.9" y2="359.03" stroke="#151515" stroke-width="1.4" />
<line x1="40.1" y1="358.06" x2="41.9" y2="358.06" stroke="#151515" stroke-width="1.4" />
<line x1="40.1" y1="357.2" x2="43.6" y2="357.2" stroke="#151515" stroke-width="1.4" />
<text x="35.2" y="360.8" font-size="10.0" text-anchor="end" fill="#111" font-weight="bold" font-family='"Liberation Sans", sans-serif' stroke="#111" stroke-width="0.3" >10<tspan font-size="7.0" dy="-3.8">&#8722;5</tspan></text>
<line x1="40.1" y1="351.51" x2="41.9" y2="351.51" stroke="#151515" stroke-width="1.4" />
<line x1="40.1" y1="348.18" x2="41.9" y2="348.18" stroke="#151515" stroke-width="1.4" />
<line x1="40.1" y1="345.82" x2="41.9" y2="345.82" stroke="#151515" stroke-width="1.4" />
<line x1="40.1" y1="343.99" x2="41.9" y2="343.99" stroke="#151515" stroke-width="1.4" />
<line x1="40.1" y1="342.49" x2="41.9" y2="342.49" stroke="#151515" stroke-width="1.4" />
<line x1="40.1" y1="341.23" x2="41.9" y2="341.23" stroke="#151515" stroke-width="1.4" />
<line x1="40.1" y1="340.13" x2="41.9" y2="340.13" stroke="#151515" stroke-width="1.4" />
<line x1="40.1" y1="339.16" x2="41.9" y2="339.16" stroke="#151515" stroke-width="1.4" />
<line x1="40.1" y1="338.3" x2="43.6" y2="338.3" stroke="#151515" stroke-width="1.4" />
<text x="35.2" y="341.9" font-size="10.0" text-anchor="end" fill="#111" font-weight="bold" font-family='"Liberation Sans", sans-serif' stroke="#111" stroke-width="0.3" >10<tspan font-size="7.0" dy="-3.8">&#8722;4</tspan></text>
<line x1="40.1" y1="332.61" x2="41.9" y2="332.61" stroke="#151515" stroke-width="1.4" />
<line x1="40.1" y1="329.28" x2="41.9" y2="329.28" stroke="#151515" stroke-width="1.4" />
<line x1="40.1" y1="326.92" x2="41.9" y2="326.92" stroke="#151515" stroke-width="1.4" />
<line x1="40.1" y1="325.09" x2="41.9" y2="325.09" stroke="#151515" stroke-width="1.4" />
<line x1="40.1" y1="323.59" x2="41.9" y2="323.59" stroke="#151515" stroke-width="1.4" />
<line x1="40.1" y1="322.33" x2="41.9" y2="322.33" stroke="#151515" stroke-width="1.4" />
<line x1="40.1" y1="321.23" x2="41.9" y2="321.23" stroke="#151515" stroke-width="1.4" />
<line x1="40.1" y1="320.26" x2="41.9" y2="320.26" stroke="#151515" stroke-width="1.4" />
<line x1="40.1" y1="319.4" x2="43.6" y2="319.4" stroke="#151515" stroke-width="1.4" />
<text x="35.2" y="323" font-size="10.0" text-anchor="end" fill="#111" font-weight="bold" font-family='"Liberation Sans", sans-serif' stroke="#111" stroke-width="0.3" >10<tspan font-size="7.0" dy="-3.8">&#8722;3</tspan></text>
<line x1="40.1" y1="313.71" x2="41.9" y2="313.71" stroke="#151515" stroke-width="1.4" />
<line x1="40.1" y1="310.38" x2="41.9" y2="310.38" stroke="#151515" stroke-width="1.4" />
<line x1="40.1" y1="308.02" x2="41.9" y2="308.02" stroke="#151515" stroke-width="1.4" />
<line x1="40.1" y1="306.19" x2="41.9" y2="306.19" stroke="#151515" stroke-width="1.4" />
<line x1="40.1" y1="304.69" x2="41.9" y2="304.69" stroke="#151515" stroke-width="1.4" />
<line x1="40.1" y1="303.43" x2="41.9" y2="303.43" stroke="#151515" stroke-width="1.4" />
<line x1="40.1" y1="302.33" x2="41.9" y2="302.33" stroke="#151515" stroke-width="1.4" />
<line x1="40.1" y1="301.36" x2="41.9" y2="301.36" stroke="#151515" stroke-width="1.4" />
<line x1="40.1" y1="300.5" x2="43.6" y2="300.5" stroke="#151515" stroke-width="1.4" />
<text x="35.2" y="304.1" font-size="10.0" text-anchor="end" fill="#111" font-weight="bold" font-family='"Liberation Sans", sans-serif' stroke="#111" stroke-width="0.3" >10<tspan font-size="7.0" dy="-3.8">&#8722;2</tspan></text>
<line x1="40.1" y1="294.81" x2="41.9" y2="294.81" stroke="#151515" stroke-width="1.4" />
<line x1="40.1" y1="291.48" x2="41.9" y2="291.48" stroke="#151515" stroke-width="1.4" />
<line x1="40.1" y1="289.12" x2="41.9" y2="289.12" stroke="#151515" stroke-width="1.4" />
<line x1="289.4" y1="467.6" x2="285.9" y2="467.6" stroke="#151515" stroke-width="1.4" />
<text x="293.6" y="471.2" font-size="10" text-anchor="start" fill="#111" font-weight="bold" font-family='"Liberation Sans", sans-serif' stroke="#111" stroke-width="0.3" >0</text>
<line x1="289.4" y1="445.75" x2="287.6" y2="445.75" stroke="#151515" stroke-width="1.4" />
<line x1="289.4" y1="423.9" x2="285.9" y2="423.9" stroke="#151515" stroke-width="1.4" />
<text x="293.6" y="427.5" font-size="10" text-anchor="start" fill="#111" font-weight="bold" font-family='"Liberation Sans", sans-serif' stroke="#111" stroke-width="0.3" >1</text>
<line x1="289.4" y1="402.05" x2="287.6" y2="402.05" stroke="#151515" stroke-width="1.4" />
<line x1="289.4" y1="380.2" x2="285.9" y2="380.2" stroke="#151515" stroke-width="1.4" />
<text x="293.6" y="383.8" font-size="10" text-anchor="start" fill="#111" font-weight="bold" font-family='"Liberation Sans", sans-serif' stroke="#111" stroke-width="0.3" >2</text>
<line x1="289.4" y1="358.35" x2="287.6" y2="358.35" stroke="#151515" stroke-width="1.4" />
<line x1="289.4" y1="336.5" x2="285.9" y2="336.5" stroke="#151515" stroke-width="1.4" />
<text x="293.6" y="340.1" font-size="10" text-anchor="start" fill="#111" font-weight="bold" font-family='"Liberation Sans", sans-serif' stroke="#111" stroke-width="0.3" >3</text>
<line x1="289.4" y1="314.65" x2="287.6" y2="314.65" stroke="#151515" stroke-width="1.4" />
<line x1="289.4" y1="292.8" x2="285.9" y2="292.8" stroke="#151515" stroke-width="1.4" />
<text x="293.6" y="296.4" font-size="10" text-anchor="start" fill="#111" font-weight="bold" font-family='"Liberation Sans", sans-serif' stroke="#111" stroke-width="0.3" >4</text>
<line x1="289.4" y1="489.45" x2="287.6" y2="489.45" stroke="#151515" stroke-width="1.4" />
<text x="177.1" y="511.6" font-size="10.5" text-anchor="middle" fill="#111" font-weight="bold" font-family='"Liberation Sans", sans-serif' stroke="#111" stroke-width="0.3" >Voltage (V)</text>
<text x="0" y="0" font-size="10" text-anchor="middle" fill="#111" font-weight="bold" font-family='"Liberation Sans", sans-serif' stroke="#111" stroke-width="0.3" transform="translate(12.8,391.8) rotate(-90)">Current (A)</text>
<text x="0" y="0" font-size="10.4" text-anchor="middle" fill="#111" font-weight="bold" font-family='"Liberation Sans", sans-serif' stroke="#111" stroke-width="0.3" transform="translate(317.6,385.4) rotate(-90)">Current (mA)</text>
<line x1="64.4" y1="309.1" x2="88.1" y2="309.1" stroke="#222" stroke-width="1.6" />
<text x="91.5" y="312.6" font-size="10" text-anchor="start" fill="#111" font-weight="bold" font-family='"Liberation Sans", sans-serif' stroke="#111" stroke-width="0.3" >before</text>
<line x1="64.4" y1="321.7" x2="88.1" y2="321.7" stroke="#ff1a1a" stroke-width="1.6" />
<text x="91.5" y="325.3" font-size="10" text-anchor="start" fill="#111" font-weight="bold" font-family='"Liberation Sans", sans-serif' stroke="#111" stroke-width="0.3" >after</text>
<ellipse cx="91.6" cy="407" rx="13" ry="10.85" fill="none" stroke="#1a1a1a" stroke-width="1.5"/>
<line x1="86.5" y1="408.7" x2="53.1" y2="408.7" stroke="#111" stroke-width="1.5" />
<polygon points="44.6,408.7 54.1,405.9 54.1,411.5" fill="#111"/>
<ellipse cx="232.7" cy="396.3" rx="16" ry="10.5" fill="none" stroke="#1a1a1a" stroke-width="1.5"/>
<line x1="243.7" y1="405.8" x2="279.1" y2="405.8" stroke="#111" stroke-width="1.5" />
<polygon points="287.6,405.8 278.1,408.6 278.1,403" fill="#111"/>
<text x="201.4" y="479.9" font-size="10.5" text-anchor="start" fill="#1a1aff" font-weight="bold" font-family='"Liberation Sans", sans-serif' stroke="#1a1aff" stroke-width="0.3" >V<tspan font-size="7" dy="2.8">cut</tspan><tspan dy="-2.8"> = 2.05 eV</tspan></text>
<text x="395.7" y="276.4" font-size="22" text-anchor="start" fill="#111" font-weight="normal" font-family='"Liberation Serif", serif' >(d)</text>
<path d="M393.5,425.9 C402.33,424.7 411.15,423.35 420,422.3 C429.98,421.12 440.02,420.4 450,419.2 C460.02,418 470.01,416.51 480,415.1 C488.67,413.88 497.52,413.49 506,411.3 C507.65,410.87 507.81,408.1 509.4,407.5 C514.91,405.44 520.92,405.1 526.6,403.6 C532.39,402.07 538.11,400.28 543.8,398.4 C547.59,397.15 551.26,395.58 555,394.2 C558.32,392.98 561.66,391.78 565,390.6 C567.33,389.78 569.59,388.71 572,388.2 C574.62,387.64 577.36,386.95 580,387.4 C582.07,387.75 583.4,390.61 585.5,390.5 C586.93,390.43 587.29,388.25 588,387 C589.03,385.17 590.06,383.3 590.7,381.3 C592.14,376.78 593.37,372.17 594.2,367.5 C595.11,362.38 595.26,357.16 595.9,352 C596.19,349.66 596.64,347.33 597,345 C597.77,340 598.47,334.99 599.3,330 C599.97,325.99 600.72,321.99 601.5,318 C602.16,314.62 602.97,311.28 603.6,307.9 C604.34,303.95 604.85,299.95 605.6,296 C606.05,293.65 606.67,291.33 607.2,289" fill="none" stroke="#6a6a6a" stroke-width="1.5" stroke-linejoin="round" stroke-linecap="round" />
<path d="M393.5,428.5 C422.33,426.1 451.19,423.96 480,421.3 C489.83,420.39 499.6,418.94 509.4,417.8 C520.86,416.47 532.35,415.3 543.8,413.9 C550.88,413.03 557.93,411.93 565,411 C568.33,410.56 571.66,410.11 575,409.8 C576.99,409.61 579,409.46 581,409.5 C582.34,409.53 583.71,409.63 585,410 C586.97,410.57 588.67,412.56 590.7,412.3 C592.34,412.09 593.65,410.36 594.2,408.8 C596.02,403.66 596.28,398.09 597.6,392.8 C598.95,387.38 600.5,382.02 602.2,376.7 C603.93,371.28 605.77,365.88 607.9,360.6 C609.57,356.47 611.41,352.38 613.6,348.5 C615.26,345.56 617.4,342.92 619.4,340.2 C621.5,337.35 623.55,334.44 625.9,331.8 C627.1,330.46 628.54,329.34 630,328.3 C632.28,326.67 634.73,325.3 637.1,323.8" fill="none" stroke="#f04f52" stroke-width="1.5" stroke-linejoin="round" stroke-linecap="round" />
<path d="M393.5,432.8 C422.33,431.37 451.17,430.09 480,428.5 C489.81,427.96 499.61,427.2 509.4,426.4 C520.88,425.46 532.33,424.29 543.8,423.3 C550.86,422.69 557.93,422.11 565,421.6 C570.33,421.21 575.67,420.95 581,420.6 C582.33,420.51 583.67,420.12 585,420.3 C586.96,420.56 588.74,422.13 590.7,421.9 C592.16,421.73 593.6,420.54 594.2,419.2 C595.99,415.2 596.33,410.69 597.6,406.5 C599,401.89 600.44,397.29 602.2,392.8 C603.88,388.51 605.69,384.24 607.9,380.2 C609.9,376.55 612.06,372.93 614.8,369.8 C617.48,366.74 620.81,364.31 624,361.8 C626.15,360.11 628.49,358.66 630.8,357.2 C632.86,355.9 635,354.73 637.1,353.5" fill="none" stroke="#3b7ee8" stroke-width="1.5" stroke-linejoin="round" stroke-linecap="round" />
<path d="M393.5,440.2 C422.33,438.9 451.16,437.49 480,436.3 C489.8,435.89 499.61,435.94 509.4,435.4 C520.88,434.77 532.33,433.69 543.8,432.8 C550.87,432.25 557.92,431.48 565,431.1 C571.66,430.74 578.33,430.43 585,430.6 C587.33,430.66 589.62,432.31 591.9,431.8 C593.49,431.45 594.57,429.75 595.3,428.3 C596.92,425.06 597.66,421.44 598.8,418 C600.32,413.41 601.6,408.73 603.3,404.2 C605.04,399.56 606.78,394.88 609.1,390.5 C611.03,386.85 613.29,383.32 616,380.2 C618.31,377.54 621.22,375.46 624,373.3 C626.16,371.62 628.57,370.28 630.8,368.7 C632.94,367.18 635,365.57 637.1,364" fill="none" stroke="#45ac74" stroke-width="1.5" stroke-linejoin="round" stroke-linecap="round" />
<path d="M393.5,447.4 C422.33,446.27 451.16,445.07 480,444 C489.8,443.64 499.61,443.58 509.4,443.1 C520.88,442.54 532.33,441.6 543.8,440.9 C550.86,440.47 557.93,440.08 565,439.7 C571.67,439.34 578.33,438.68 585,438.7 C587.33,438.71 589.62,440.26 591.9,439.8 C593.77,439.43 595.51,438.03 596.5,436.4 C598.65,432.89 599.49,428.73 601,424.9 C602.52,421.06 604.03,417.22 605.6,413.4 C607.5,408.78 609.17,404.06 611.4,399.6 C613.38,395.64 615.44,391.66 618.2,388.2 C620.07,385.85 622.79,384.32 625.1,382.4 C627.39,380.49 629.65,378.54 632,376.7 C633.65,375.4 635.4,374.23 637.1,373" fill="none" stroke="#bb8aea" stroke-width="1.5" stroke-linejoin="round" stroke-linecap="round" />
<path d="M393.5,453.5 C422.33,452.9 451.18,452.77 480,451.7 C489.83,451.34 499.59,449.86 509.4,449.2 C520.86,448.43 532.33,447.94 543.8,447.4 C550.86,447.07 557.93,446.84 565,446.6 C571.67,446.37 578.33,446 585,446 C587.31,446 589.61,446.92 591.9,446.6 C593.58,446.37 595.5,445.77 596.5,444.4 C598.71,441.37 599.53,437.55 601,434.1 C602.96,429.51 604.73,424.84 606.8,420.3 C608.93,415.63 611,410.92 613.6,406.5 C615.98,402.46 618.63,398.54 621.7,395 C623.64,392.76 626.24,391.21 628.5,389.3 C631.37,386.87 634.23,384.43 637.1,382" fill="none" stroke="#d9a526" stroke-width="1.5" stroke-linejoin="round" stroke-linecap="round" />
<path d="M393.7,306 C394.93,306.47 396.24,306.77 397.4,307.4 C399.03,308.28 400.43,309.52 402,310.5 C404.17,311.85 406.24,313.41 408.6,314.4 C414.67,316.96 420.88,319.22 427.2,321.1 C435.37,323.53 443.78,325.05 452,327.3 C460.32,329.58 468.59,332.04 476.8,334.7 C485.16,337.41 493.4,340.49 501.7,343.4 C509.97,346.29 518.21,349.26 526.5,352.1 C530.98,353.63 535.52,354.96 540,356.5 C545.13,358.26 550.19,360.19 555.3,362 C556.86,362.55 558.49,362.92 560,363.6 C563.6,365.22 566.92,367.45 570.6,368.9 C572.8,369.77 575.16,370.15 577.5,370.5 C578.75,370.69 580.13,370.98 581.3,370.5 C582.79,369.89 583.8,368.48 585,367.4 C586.17,366.34 587.03,364.89 588.4,364.1 C589.06,363.72 590.22,363.5 590.7,364.1 C591.99,365.69 592.56,367.8 593,369.8 C594.5,376.63 595.28,383.61 596.5,390.5 C597.58,396.61 598.7,402.71 599.9,408.8 C600.96,414.18 601.77,419.63 603.3,424.9 C604.45,428.87 605.8,432.84 607.9,436.4 C609.69,439.43 612.03,442.23 614.8,444.4 C617.5,446.51 620.79,447.79 624,449 C628.09,450.54 632.4,451.4 636.6,452.6" fill="none" stroke="#22cccc" stroke-width="1.8" stroke-linejoin="round" stroke-linecap="round" />
<ellipse cx="433" cy="438" rx="14.6" ry="20" fill="none" stroke="#1a1a1a" stroke-width="1.5"/>
<line x1="424.4" y1="419" x2="400.31" y2="394.91" stroke="#111" stroke-width="1.5" />
<polygon points="394.3,388.9 403,393.64 399.04,397.6" fill="#111"/>
<ellipse cx="568.6" cy="367.1" rx="9.2" ry="11.7" fill="none" stroke="#1a1a1a" stroke-width="1.5"/>
<line x1="574.4" y1="357.5" x2="627.62" y2="343.34" stroke="#111" stroke-width="1.5" />
<polygon points="636.8,340.9 627.45,346.6 625.86,340.6" fill="#111"/>
<line x1="590.7" y1="368.7" x2="606.45" y2="443.79" stroke="#111" stroke-width="1.5" />
<polygon points="608.3,452.6 604,443.29 608.5,442.34" fill="#111"/>
<line x1="605.6" y1="454.9" x2="637" y2="454.9" stroke="#111" stroke-width="1.6" stroke-dasharray="3.6,2.6"/>
<line x1="393.3" y1="288.8" x2="637.5" y2="288.8" stroke="#151515" stroke-width="1.6" />
<line x1="393.3" y1="288" x2="393.3" y2="486" stroke="#151515" stroke-width="1.6" />
<line x1="393.3" y1="485.2" x2="637.5" y2="485.2" stroke="#151515" stroke-width="1.6" />
<line x1="637.5" y1="288.8" x2="637.5" y2="485.95" stroke="#22cccc" stroke-width="1.7" />
<line x1="393.3" y1="485.2" x2="393.3" y2="481.2" stroke="#151515" stroke-width="1.4" />
<text x="393.3" y="499.6" font-size="11.8" text-anchor="middle" fill="#111" font-weight="bold" font-family='"Liberation Sans", sans-serif' stroke="#111" stroke-width="0.3" >&#8722;10</text>
<line x1="410.74" y1="485.2" x2="410.74" y2="483.2" stroke="#151515" stroke-width="1.4" />
<line x1="428.19" y1="485.2" x2="428.19" y2="481.2" stroke="#151515" stroke-width="1.4" />
<text x="428.19" y="499.6" font-size="11.8" text-anchor="middle" fill="#111" font-weight="bold" font-family='"Liberation Sans", sans-serif' stroke="#111" stroke-width="0.3" >&#8722;8</text>
<line x1="445.63" y1="485.2" x2="445.63" y2="483.2" stroke="#151515" stroke-width="1.4" />
<line x1="463.07" y1="485.2" x2="463.07" y2="481.2" stroke="#151515" stroke-width="1.4" />
<text x="463.07" y="499.6" font-size="11.8" text-anchor="middle" fill="#111" font-weight="bold" font-family='"Liberation Sans", sans-serif' stroke="#111" stroke-width="0.3" >&#8722;6</text>
<line x1="480.51" y1="485.2" x2="480.51" y2="483.2" stroke="#151515" stroke-width="1.4" />
<line x1="497.96" y1="485.2" x2="497.96" y2="481.2" stroke="#151515" stroke-width="1.4" />
<text x="497.96" y="499.6" font-size="11.8" text-anchor="middle" fill="#111" font-weight="bold" font-family='"Liberation Sans", sans-serif' stroke="#111" stroke-width="0.3" >&#8722;4</text>
<line x1="515.4" y1="485.2" x2="515.4" y2="483.2" stroke="#151515" stroke-width="1.4" />
<line x1="532.84" y1="485.2" x2="532.84" y2="481.2" stroke="#151515" stroke-width="1.4" />
<text x="532.84" y="499.6" font-size="11.8" text-anchor="middle" fill="#111" font-weight="bold" font-family='"Liberation Sans", sans-serif' stroke="#111" stroke-width="0.3" >&#8722;2</text>
<line x1="550.29" y1="485.2" x2="550.29" y2="483.2" stroke="#151515" stroke-width="1.4" />
<line x1="567.73" y1="485.2" x2="567.73" y2="481.2" stroke="#151515" stroke-width="1.4" />
<text x="567.73" y="499.6" font-size="11.8" text-anchor="middle" fill="#111" font-weight="bold" font-family='"Liberation Sans", sans-serif' stroke="#111" stroke-width="0.3" >0</text>
<line x1="585.17" y1="485.2" x2="585.17" y2="483.2" stroke="#151515" stroke-width="1.4" />
<line x1="602.61" y1="485.2" x2="602.61" y2="481.2" stroke="#151515" stroke-width="1.4" />
<text x="602.61" y="499.6" font-size="11.8" text-anchor="middle" fill="#111" font-weight="bold" font-family='"Liberation Sans", sans-serif' stroke="#111" stroke-width="0.3" >2</text>
<line x1="620.06" y1="485.2" x2="620.06" y2="483.2" stroke="#151515" stroke-width="1.4" />
<line x1="637.5" y1="485.2" x2="637.5" y2="481.2" stroke="#151515" stroke-width="1.4" />
<text x="637.5" y="499.6" font-size="11.8" text-anchor="middle" fill="#111" font-weight="bold" font-family='"Liberation Sans", sans-serif' stroke="#111" stroke-width="0.3" >4</text>
<line x1="393.3" y1="481.35" x2="395.3" y2="481.35" stroke="#151515" stroke-width="1.4" />
<line x1="393.3" y1="462.12" x2="397.3" y2="462.12" stroke="#151515" stroke-width="1.4" />
<text x="387.8" y="466.32" font-size="11.8" text-anchor="end" fill="#111" font-weight="bold" font-family='"Liberation Sans", sans-serif' stroke="#111" stroke-width="0.3" >50</text>
<line x1="393.3" y1="442.88" x2="395.3" y2="442.88" stroke="#151515" stroke-width="1.4" />
<line x1="393.3" y1="423.65" x2="397.3" y2="423.65" stroke="#151515" stroke-width="1.4" />
<text x="387.8" y="427.85" font-size="11.8" text-anchor="end" fill="#111" font-weight="bold" font-family='"Liberation Sans", sans-serif' stroke="#111" stroke-width="0.3" >100</text>
<line x1="393.3" y1="404.41" x2="395.3" y2="404.41" stroke="#151515" stroke-width="1.4" />
<line x1="393.3" y1="385.18" x2="397.3" y2="385.18" stroke="#151515" stroke-width="1.4" />
<text x="387.8" y="389.38" font-size="11.8" text-anchor="end" fill="#111" font-weight="bold" font-family='"Liberation Sans", sans-serif' stroke="#111" stroke-width="0.3" >150</text>
<line x1="393.3" y1="365.94" x2="395.3" y2="365.94" stroke="#151515" stroke-width="1.4" />
<line x1="393.3" y1="346.71" x2="397.3" y2="346.71" stroke="#151515" stroke-width="1.4" />
<text x="387.8" y="350.91" font-size="11.8" text-anchor="end" fill="#111" font-weight="bold" font-family='"Liberation Sans", sans-serif' stroke="#111" stroke-width="0.3" >200</text>
<line x1="393.3" y1="327.47" x2="395.3" y2="327.47" stroke="#151515" stroke-width="1.4" />
<line x1="393.3" y1="308.24" x2="397.3" y2="308.24" stroke="#151515" stroke-width="1.4" />
<text x="387.8" y="312.44" font-size="11.8" text-anchor="end" fill="#111" font-weight="bold" font-family='"Liberation Sans", sans-serif' stroke="#111" stroke-width="0.3" >250</text>
<line x1="393.3" y1="289" x2="395.3" y2="289" stroke="#151515" stroke-width="1.4" />
<line x1="637.5" y1="485.3" x2="633.5" y2="485.3" stroke="#22cccc" stroke-width="1.5" />
<text x="642.6" y="489.5" font-size="11.6" text-anchor="start" fill="#22cccc" font-weight="bold" font-family='"Liberation Sans", sans-serif' stroke="#22cccc" stroke-width="0.3" >0</text>
<line x1="637.5" y1="474.08" x2="635.5" y2="474.08" stroke="#22cccc" stroke-width="1.5" />
<line x1="637.5" y1="462.86" x2="633.5" y2="462.86" stroke="#22cccc" stroke-width="1.5" />
<text x="642.6" y="467.06" font-size="11.6" text-anchor="start" fill="#22cccc" font-weight="bold" font-family='"Liberation Sans", sans-serif' stroke="#22cccc" stroke-width="0.3" >2</text>
<line x1="637.5" y1="451.64" x2="635.5" y2="451.64" stroke="#22cccc" stroke-width="1.5" />
<line x1="637.5" y1="440.42" x2="633.5" y2="440.42" stroke="#22cccc" stroke-width="1.5" />
<text x="642.6" y="444.62" font-size="11.6" text-anchor="start" fill="#22cccc" font-weight="bold" font-family='"Liberation Sans", sans-serif' stroke="#22cccc" stroke-width="0.3" >4</text>
<line x1="637.5" y1="429.2" x2="635.5" y2="429.2" stroke="#22cccc" stroke-width="1.5" />
<line x1="637.5" y1="417.98" x2="633.5" y2="417.98" stroke="#22cccc" stroke-width="1.5" />
<text x="642.6" y="422.18" font-size="11.6" text-anchor="start" fill="#22cccc" font-weight="bold" font-family='"Liberation Sans", sans-serif' stroke="#22cccc" stroke-width="0.3" >6</text>
<line x1="637.5" y1="406.76" x2="635.5" y2="406.76" stroke="#22cccc" stroke-width="1.5" />
<line x1="637.5" y1="395.54" x2="633.5" y2="395.54" stroke="#22cccc" stroke-width="1.5" />
<text x="642.6" y="399.74" font-size="11.6" text-anchor="start" fill="#22cccc" font-weight="bold" font-family='"Liberation Sans", sans-serif' stroke="#22cccc" stroke-width="0.3" >8</text>
<line x1="637.5" y1="384.32" x2="635.5" y2="384.32" stroke="#22cccc" stroke-width="1.5" />
<line x1="637.5" y1="373.1" x2="633.5" y2="373.1" stroke="#22cccc" stroke-width="1.5" />
<text x="642.6" y="377.3" font-size="11.6" text-anchor="start" fill="#22cccc" font-weight="bold" font-family='"Liberation Sans", sans-serif' stroke="#22cccc" stroke-width="0.3" >10</text>
<line x1="637.5" y1="361.88" x2="635.5" y2="361.88" stroke="#22cccc" stroke-width="1.5" />
<line x1="637.5" y1="350.66" x2="633.5" y2="350.66" stroke="#22cccc" stroke-width="1.5" />
<text x="642.6" y="354.86" font-size="11.6" text-anchor="start" fill="#22cccc" font-weight="bold" font-family='"Liberation Sans", sans-serif' stroke="#22cccc" stroke-width="0.3" >12</text>
<line x1="637.5" y1="339.44" x2="635.5" y2="339.44" stroke="#22cccc" stroke-width="1.5" />
<line x1="637.5" y1="328.22" x2="633.5" y2="328.22" stroke="#22cccc" stroke-width="1.5" />
<text x="642.6" y="332.42" font-size="11.6" text-anchor="start" fill="#22cccc" font-weight="bold" font-family='"Liberation Sans", sans-serif' stroke="#22cccc" stroke-width="0.3" >14</text>
<line x1="637.5" y1="317" x2="635.5" y2="317" stroke="#22cccc" stroke-width="1.5" />
<line x1="637.5" y1="305.78" x2="633.5" y2="305.78" stroke="#22cccc" stroke-width="1.5" />
<text x="642.6" y="309.98" font-size="11.6" text-anchor="start" fill="#22cccc" font-weight="bold" font-family='"Liberation Sans", sans-serif' stroke="#22cccc" stroke-width="0.3" >16</text>
<line x1="637.5" y1="294.56" x2="635.5" y2="294.56" stroke="#22cccc" stroke-width="1.5" />
<text x="522.2" y="520.4" font-size="12.4" text-anchor="middle" fill="#111" font-weight="bold" font-family='"Liberation Sans", sans-serif' stroke="#111" stroke-width="0.3" >Voltage (V)</text>
<text x="0" y="0" font-size="12.4" text-anchor="middle" fill="#111" font-weight="bold" font-family='"Liberation Sans", sans-serif' stroke="#111" stroke-width="0.3" transform="translate(356.3,389.4) rotate(-90)">Capacitance (pF)</text>
<text x="0" y="0" font-size="12.1" text-anchor="middle" fill="#111" font-weight="bold" font-family='"Liberation Sans", sans-serif' stroke="#111" stroke-width="0.3" transform="translate(681.6,387) rotate(-90)">1/C<tspan font-size="7.6" dy="-5">2</tspan><tspan dy="5">(x10</tspan><tspan font-size="7.6" dy="-5">19</tspan><tspan dy="5">(F</tspan><tspan font-size="7.6" dy="-5">&#8722;2</tspan><tspan dy="5">))</tspan></text>
<line x1="408.7" y1="298.4" x2="437" y2="298.4" stroke="#6a6a6a" stroke-width="1.9" />
<text x="440.5" y="302.6" font-size="12" text-anchor="start" fill="#111" font-weight="bold" font-family='"Liberation Sans", sans-serif' stroke="#111" stroke-width="0.3" >1MHz</text>
<line x1="408.7" y1="313.76" x2="437" y2="313.76" stroke="#f04f52" stroke-width="1.9" />
<text x="440.5" y="317.96" font-size="12" text-anchor="start" fill="#111" font-weight="bold" font-family='"Liberation Sans", sans-serif' stroke="#111" stroke-width="0.3" >2MHz</text>
<line x1="408.7" y1="329.12" x2="437" y2="329.12" stroke="#3b7ee8" stroke-width="1.9" />
<text x="440.5" y="333.32" font-size="12" text-anchor="start" fill="#111" font-weight="bold" font-family='"Liberation Sans", sans-serif' stroke="#111" stroke-width="0.3" >3MHz</text>
<line x1="408.7" y1="344.48" x2="437" y2="344.48" stroke="#45ac74" stroke-width="1.9" />
<text x="440.5" y="348.68" font-size="12" text-anchor="start" fill="#111" font-weight="bold" font-family='"Liberation Sans", sans-serif' stroke="#111" stroke-width="0.3" >4MHz</text>
<line x1="408.7" y1="359.84" x2="437" y2="359.84" stroke="#bb8aea" stroke-width="1.9" />
<text x="440.5" y="364.04" font-size="12" text-anchor="start" fill="#111" font-weight="bold" font-family='"Liberation Sans", sans-serif' stroke="#111" stroke-width="0.3" >5MHz</text>
<line x1="408.7" y1="375.2" x2="437" y2="375.2" stroke="#d9a526" stroke-width="1.9" />
<text x="440.5" y="379.4" font-size="12" text-anchor="start" fill="#111" font-weight="bold" font-family='"Liberation Sans", sans-serif' stroke="#111" stroke-width="0.3" >6MHz</text>
<line x1="408.7" y1="392.4" x2="437" y2="392.4" stroke="#22cccc" stroke-width="1.8" />
<text x="440.5" y="396.6" font-size="12" text-anchor="start" fill="#111" font-weight="bold" font-family='"Liberation Sans", sans-serif' stroke="#111" stroke-width="0.3" >1/C<tspan font-size="7.6" dy="-5">2</tspan></text>
</g>
</svg>
</body></html>
